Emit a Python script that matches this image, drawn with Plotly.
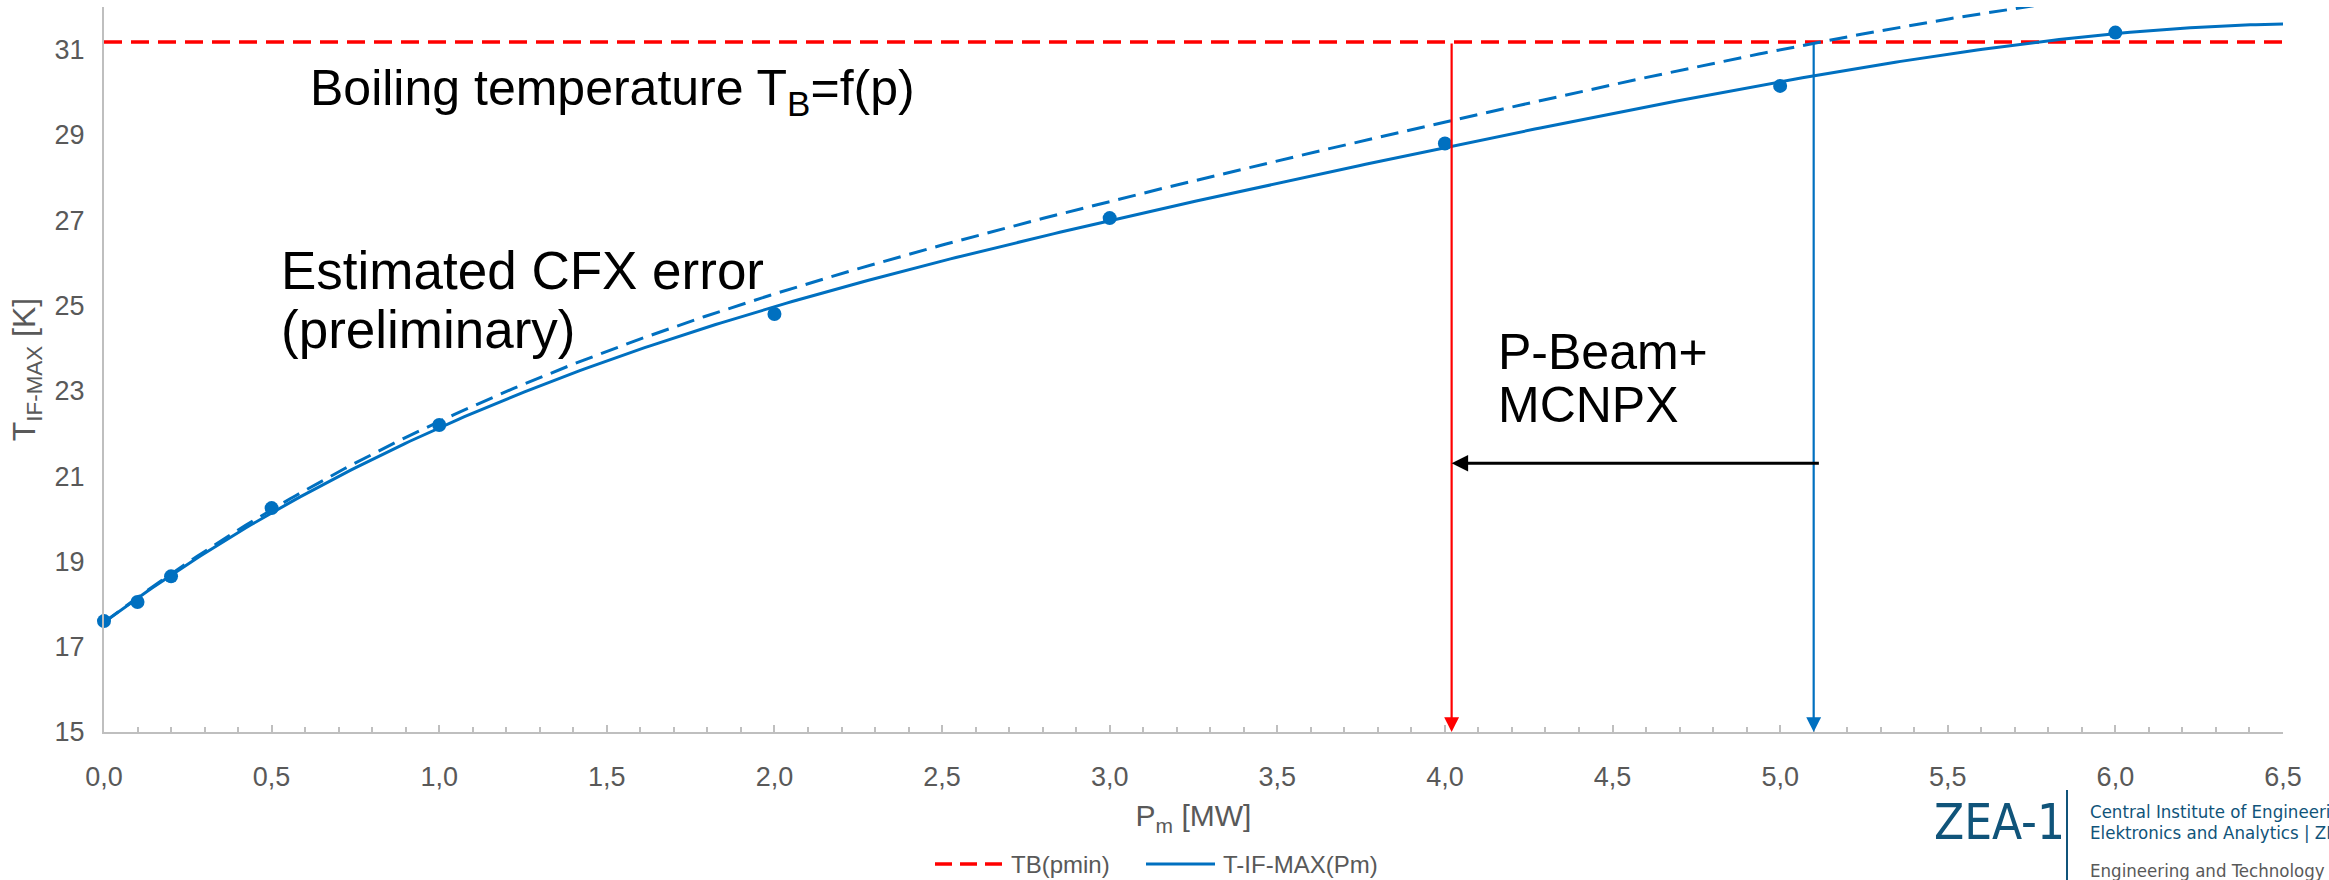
import numpy as np
import plotly.graph_objects as go

# Maximum interface temperature vs. moderator power (CFX results)
power_mw = [0.0, 0.1, 0.2, 0.5, 1.0, 2.0, 3.0, 4.0, 5.0, 6.0]
t_if_max = [17.6, 18.05, 18.65, 20.25, 22.2, 24.8, 27.05, 28.8, 30.15, 31.4]

# Boiling temperature at minimum pressure [K]
t_boil = 31.18

# Estimated CFX error: additional temperature rise per MW [K/MW]
cfx_error_per_mw = 0.15

# Power limits marked by the vertical arrows [MW]
p_limit_mcnpx = 4.02
p_limit_cfx = 5.1
arrow_level = 21.3

x_range = [0.0, 6.5]
y_range = [15, 32]
y_ticks = [15, 17, 19, 21, 23, 25, 27, 29, 31]

BLUE = "#0070C0"
RED = "#FF0000"
GREY_TXT = "#595959"
AXIS = "#BFBFBF"
FONT = "Liberation Sans, Arial, sans-serif"
COND = "DejaVu Sans Condensed, Liberation Sans, Arial, sans-serif"
ZEA = "#10547A"

W, H = 2329, 880
M_L, M_R, M_T, M_B = 104, 46, 7, 148
PW, PH = W - M_L - M_R, H - M_T - M_B


def px(xpix):
    """Horizontal pixel position -> paper coordinate."""
    return (xpix - M_L) / PW


def py(ypix):
    """Vertical pixel position (from top) -> paper coordinate."""
    return (H - M_B - ypix) / PH


# Polynomial trendline through the measured points, plus the error band edge
coeffs = np.polyfit(power_mw, t_if_max, 4)
p_fit = np.linspace(x_range[0], x_range[1], 400)
t_fit = np.polyval(coeffs, p_fit)
t_err = t_fit + cfx_error_per_mw * p_fit

fig = go.Figure()

fig.add_trace(go.Scatter(
    x=x_range, y=[t_boil, t_boil], mode="lines", name="TB(pmin)",
    line=dict(color=RED, width=3.5, dash="18px,9px"), showlegend=False,
))
fig.add_trace(go.Scatter(
    x=p_fit, y=t_fit, mode="lines", name="T-IF-MAX(Pm)",
    line=dict(color=BLUE, width=3), showlegend=False,
))
fig.add_trace(go.Scatter(
    x=p_fit, y=t_err, mode="lines", showlegend=False,
    line=dict(color=BLUE, width=3, dash="18px,9px"),
))
fig.add_trace(go.Scatter(
    x=power_mw, y=t_if_max, mode="markers", showlegend=False,
    marker=dict(color=BLUE, size=14), cliponaxis=False,
))

annotations = []
shapes = []

# Vertical limit arrows and the horizontal shift arrow
for xp, col in ((p_limit_mcnpx, RED), (p_limit_cfx, BLUE)):
    annotations.append(dict(
        x=xp, y=y_range[0], ax=xp, ay=t_boil,
        xref="x", yref="y", axref="x", ayref="y",
        text="", showarrow=True, arrowhead=2, arrowsize=1.35,
        arrowwidth=2.2, arrowcolor=col, standoff=0,
    ))
annotations.append(dict(
    x=p_limit_mcnpx, y=arrow_level, ax=p_limit_cfx + 0.02, ay=arrow_level,
    xref="x", yref="y", axref="x", ayref="y",
    text="", showarrow=True, arrowhead=2, arrowsize=1.1,
    arrowwidth=3, arrowcolor="#000000", standoff=0,
))

for txt, xp, yp, size in (
    ("Boiling temperature T<sub>B</sub>=f(p)", 0.61, 30.02, 50),
    ("Estimated CFX error", 0.523, 25.81, 53),
    ("(preliminary)", 0.523, 24.44, 53),
    ("P-Beam+", 4.152, 23.9, 50),
    ("MCNPX", 4.152, 22.66, 50),
):
    annotations.append(dict(
        x=xp, y=yp, xref="x", yref="y", text=txt, showarrow=False,
        xanchor="left", yanchor="middle",
        font=dict(family=FONT, size=size, color="#000000"),
    ))

# Legend drawn below the x-axis title
legend_y = 864
shapes.append(dict(
    type="line", xref="paper", yref="paper",
    x0=px(935), x1=px(1003), y0=py(legend_y), y1=py(legend_y),
    line=dict(color=RED, width=3.5, dash="17px,8px"),
))
shapes.append(dict(
    type="line", xref="paper", yref="paper",
    x0=px(1146), x1=px(1215), y0=py(legend_y), y1=py(legend_y),
    line=dict(color=BLUE, width=3),
))
for txt, xl in (("TB(pmin)", 1009), ("T-IF-MAX(Pm)", 1221)):
    annotations.append(dict(
        x=px(xl), y=py(legend_y), xref="paper", yref="paper", text=txt,
        showarrow=False, xanchor="left", yanchor="middle",
        font=dict(family=FONT, size=24, color=GREY_TXT),
    ))

# Institute logo block in the lower right corner
annotations.append(dict(
    x=px(1932), y=py(822), xref="paper", yref="paper", text="ZEA-1",
    showarrow=False, xanchor="left", yanchor="middle",
    font=dict(family=COND, size=49, color=ZEA),
))
for txt, yl, col in (
    ("Central Institute of Engineering,", 811, ZEA),
    ("Elektronics and Analytics | ZEA", 833, ZEA),
    ("Engineering and Technology | ZEA-1", 870, GREY_TXT),
):
    annotations.append(dict(
        x=px(2088), y=py(yl), xref="paper", yref="paper", text=txt,
        showarrow=False, xanchor="left", yanchor="middle",
        font=dict(family=COND, size=18.5, color=col),
    ))
shapes.append(dict(
    type="line", xref="paper", yref="paper",
    x0=px(2067), x1=px(2067), y0=py(790), y1=py(882),
    line=dict(color=ZEA, width=2),
))

fig.update_layout(
    width=W, height=H,
    margin=dict(l=M_L, r=M_R, t=M_T, b=M_B, autoexpand=False),
    paper_bgcolor="white", plot_bgcolor="white",
    font=dict(family=FONT, color=GREY_TXT, size=24),
    separators=", ",
    showlegend=False,
    annotations=annotations,
    shapes=shapes,
    xaxis=dict(
        range=x_range, dtick=0.5, tick0=0, tickformat=".1f",
        showgrid=False, zeroline=False,
        showline=True, linecolor=AXIS, linewidth=2,
        ticks="inside", ticklen=7, tickwidth=2, tickcolor=AXIS,
        minor=dict(ticks="inside", dtick=0.1, ticklen=5, tickwidth=2, tickcolor=AXIS),
        tickfont=dict(size=27, color=GREY_TXT),
        ticklabelstandoff=20,
        title=dict(text="P<sub>m</sub> [MW]", font=dict(size=30, color=GREY_TXT), standoff=14),
        automargin=False,
    ),
    yaxis=dict(
        range=y_range, tickvals=y_ticks,
        showgrid=False, zeroline=False,
        showline=True, linecolor=AXIS, linewidth=2, ticks="",
        tickfont=dict(size=27, color=GREY_TXT),
        ticklabelstandoff=12,
        title=dict(text="T<sub>IF-MAX</sub> [K]", font=dict(size=32, color=GREY_TXT), standoff=9),
        automargin=False,
    ),
)

fig.write_html("out.html")
